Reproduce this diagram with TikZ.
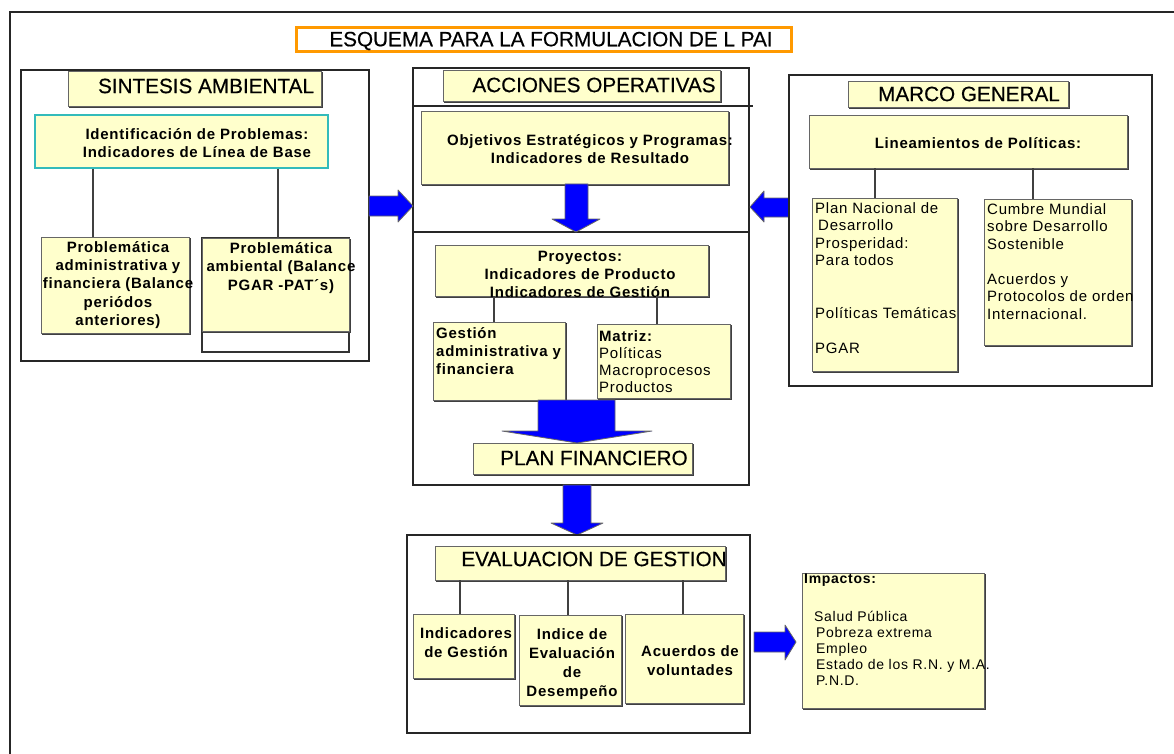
\documentclass[tikz,border=0pt]{standalone}
\usepackage{fontspec}
\setmainfont{Liberation Sans}
\newfontfamily\lsp{Liberation Sans}[LetterSpace=5]
\newfontfamily\hdf{Liberation Sans}[FakeBold=0.4]
\definecolor{yfill}{HTML}{FFFFCC}
\definecolor{teal1}{HTML}{33BBBB}
\definecolor{orng}{HTML}{FF9900}
\definecolor{barr}{HTML}{0000FF}
\begin{document}
\begin{tikzpicture}[x=1pt,y=-1pt,
  panel/.style={draw=black!85, line width=1.8pt, inner sep=0pt},
  ybox/.style={draw=black!60, line width=0.9pt, fill=yfill, inner sep=0pt,
    preaction={draw=black!75, line width=1.2pt, transform canvas={shift={(1.2pt,-1.2pt)}}}},
  hdr/.style={font=\hdf\fontsize{20.7}{24}\selectfont, inner sep=0pt},
  bt/.style={font=\lsp\bfseries\fontsize{15}{18.3}\selectfont, inner sep=0pt, align=center},
  bl/.style={font=\lsp\bfseries\fontsize{15}{18}\selectfont, inner sep=0pt, align=left},
  nt/.style={font=\lsp\fontsize{15}{17.5}\selectfont, inner sep=0pt, align=left},
  conn/.style={draw=black!75, line width=1.2pt},
  barrow/.style={fill=barr, draw=black!60, line width=0.8pt, line join=round}
]
\fill[white] (0,0) rectangle (1174,754);
\useasboundingbox (0,0) rectangle (1174,754);
% outer frame
\draw[line width=2pt, black!85] (10,754) -- (10,12) -- (1174,12);
% title
\node[draw=orng, line width=3pt, fill=white, minimum width=495, minimum height=24, inner sep=0pt] (title) at (543.5,40) {};
\node[hdr] (titletxt) at (551,41) {ESQUEMA PARA LA FORMULACION DE L PAI};

% ===== SINTESIS AMBIENTAL =====
\node[panel, minimum width=348, minimum height=291] (sint) at (195,215.5) {};
\node[ybox, minimum width=253, minimum height=35] (sinth) at (194.5,88.5) {};
\node[hdr] (sinttxt) at (206,86) {SINTESIS AMBIENTAL};
\node[draw=teal1, line width=1.2pt, fill=yfill, minimum width=293, minimum height=53, inner sep=0pt] (ident) at (181.5,141.5) {};
\node[bt] (identtxt) at (197,143) {Identificación de Problemas:\\Indicadores de Línea de Base};
\node[draw=black!80, line width=1.4pt, minimum width=147, minimum height=114, inner sep=0pt] (pa2out) at (275.5,295) {};
\node[ybox, minimum width=148, minimum height=96] (pa1) at (115,285) {};
\node[bt] (pa1txt) at (118,285) {Problemática\\administrativa y\\financiera (Balance\\periódos\\anteriores)};
\node[ybox, minimum width=147, minimum height=93] (pa2) at (275.5,284.5) {};
\node[bt] (pa2txt) at (281,268) {Problemática\\ambiental (Balance\\PGAR -PAT´s)};
\draw[conn] (93,0 |- ident.south) -- (93,0 |- pa1.north);
\draw[conn] (278,0 |- ident.south) -- (278,0 |- pa2.north);

% ===== ACCIONES OPERATIVAS =====
\node[panel, minimum width=336, minimum height=417] (acc) at (581,276.5) {};
\draw[line width=1.4pt, black!85] (acc.west |- 0,106) -- (753,106);
\draw[line width=1.4pt, black!85] (acc.west |- 0,232) -- (acc.east |- 0,232);
\node[ybox, minimum width=277, minimum height=31] (acch) at (581.5,85.5) {};
\node[hdr] (acctxt) at (594,85) {ACCIONES OPERATIVAS};
\node[ybox, minimum width=307, minimum height=73] (obj) at (574.5,147.5) {};
\node[bt] (objtxt) at (590,149) {Objetivos Estratégicos y Programas:\\Indicadores de Resultado};
\node[ybox, minimum width=273, minimum height=51] (proy) at (571.5,270.5) {};
\node[bt, font=\lsp\bfseries\fontsize{15}{18}\selectfont] (proytxt) at (580,274) {Proyectos:\\Indicadores de Producto\\Indicadores de Gestión};
\node[ybox, minimum width=132, minimum height=78] (gest) at (499,361) {};
\node[bl, anchor=north west] (gesttxt) at (436,327) {Gestión\\administrativa y\\financiera};
\node[ybox, minimum width=133, minimum height=74] (matriz) at (663.5,361) {};
\node[nt, font=\lsp\fontsize{15}{17}\selectfont, anchor=north west] (matriztxt) at (599,330) {\textbf{Matriz:}\\Políticas\\Macroprocesos\\Productos};
\draw[conn] (494,0 |- proy.south) -- (494,0 |- gest.north);
\draw[conn] (657,0 |- proy.south) -- (657,0 |- matriz.north);
\node[ybox, minimum width=219, minimum height=31] (plan) at (582.5,458.5) {};
\node[hdr] (plantxt) at (594,458) {PLAN FINANCIERO};
% arrows inside
\draw[barrow] (565,184) -- (588,184) -- (588,219) -- (600,219) -- (576,232) -- (552,219) -- (565,219) -- cycle;
\draw[barrow] (538,400) -- (615,400) -- (615,431) -- (652,431) -- (577,443) -- (502,431) -- (538,431) -- cycle;
\draw[barrow] (563,485) -- (591,485) -- (591,523) -- (603,523) -- (577,535) -- (551,523) -- (563,523) -- cycle;
% side arrows
\draw[barrow] (369,196) -- (398,196) -- (398,190) -- (413,206) -- (398,222) -- (398,216) -- (369,216) -- cycle;
\draw[barrow] (789,198) -- (764,198) -- (764,191) -- (750,207) -- (764,222) -- (764,217) -- (789,217) -- cycle;

% ===== MARCO GENERAL =====
\node[panel, minimum width=363, minimum height=311] (marco) at (970.5,230.5) {};
\node[ybox, minimum width=220, minimum height=26] (marcoh) at (958,94) {};
\node[hdr] (marcotxt) at (969,94) {MARCO GENERAL};
\node[ybox, minimum width=318, minimum height=53] (lin) at (968,141.5) {};
\node[bt] (lintxt) at (978,143) {Lineamientos de Políticas:};
\node[ybox, minimum width=145, minimum height=173] (pnd) at (884.5,284.5) {};
\node[nt, anchor=north west] (pndtxt) at (815,202) {Plan Nacional de\\\hspace*{3pt}Desarrollo\\Prosperidad:\\Para todos\\[35pt]Políticas Temáticas\\[17.5pt]PGAR};
\node[ybox, minimum width=147, minimum height=146] (cum) at (1057.5,272) {};
\node[nt, anchor=north west] (cumtxt) at (987,203) {Cumbre Mundial\\sobre Desarrollo\\Sostenible\\[17.5pt]Acuerdos y\\Protocolos de orden\\Internacional.};
\draw[conn] (875,0 |- lin.south) -- (875,0 |- pnd.north);
\draw[conn] (1033,0 |- lin.south) -- (1033,0 |- cum.north);

% ===== EVALUACION DE GESTION =====
\node[panel, minimum width=343, minimum height=198] (eval) at (578.5,634) {};
\node[ybox, minimum width=290, minimum height=34] (evalh) at (580,563) {};
\node[hdr] (evaltxt) at (594,559) {EVALUACION DE GESTION};
\node[ybox, minimum width=101, minimum height=64] (indg) at (463.5,646) {};
\node[bt, font=\lsp\bfseries\fontsize{15}{19}\selectfont] (indgtxt) at (466,643) {Indicadores\\de Gestión};
\node[ybox, minimum width=102, minimum height=90] (indice) at (570,660) {};
\node[bt, font=\lsp\bfseries\fontsize{15}{19}\selectfont] (indicetxt) at (572,664) {Indice de\\Evaluación\\de\\Desempeño};
\node[ybox, minimum width=118, minimum height=89] (acu) at (684,658.5) {};
\node[bt, font=\lsp\bfseries\fontsize{15}{19}\selectfont] (acutxt) at (690,661) {Acuerdos de\\voluntades};
\draw[conn] (460,0 |- evalh.south) -- (460,0 |- indg.north);
\draw[conn] (568,0 |- evalh.south) -- (568,0 |- indice.north);
\draw[conn] (683,0 |- evalh.south) -- (683,0 |- acu.north);
\draw[barrow] (754,632) -- (785,632) -- (785,625) -- (796,642) -- (785,660) -- (785,652) -- (754,652) -- cycle;
\node[ybox, minimum width=182, minimum height=135] (imp) at (893,640.5) {};
\node[font=\lsp\bfseries\fontsize{14}{16}\selectfont, inner sep=0pt, anchor=north west] (imptit) at (804,574) {Impactos:};
\node[font=\lsp\fontsize{14}{16}\selectfont, inner sep=0pt, align=left, anchor=north west] (implist) at (814,611) {Salud Pública\\\hspace*{2pt}Pobreza extrema\\\hspace*{2pt}Empleo\\\hspace*{2pt}Estado de los R.N. y M.A.\\\hspace*{2pt}P.N.D.};
\end{tikzpicture}
\end{document}
